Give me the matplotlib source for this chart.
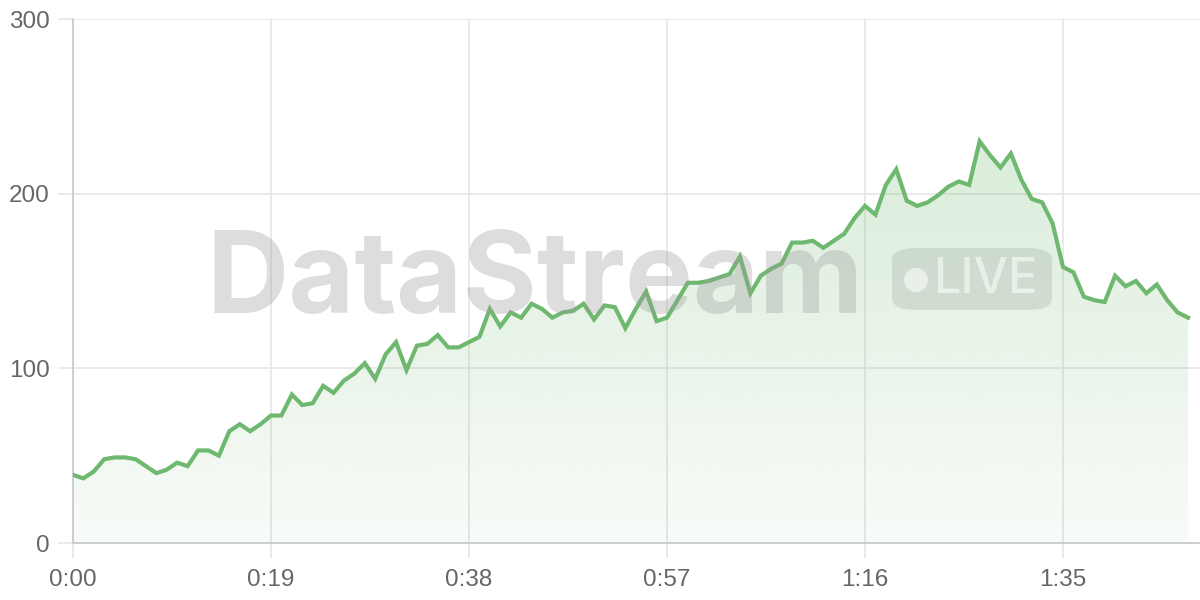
import matplotlib
matplotlib.use("Agg")
import matplotlib.pyplot as plt
import numpy as np
from matplotlib.patches import FancyBboxPatch, Ellipse
from matplotlib.path import Path
from matplotlib.patches import PathPatch

# ---- data ----
values = [39, 37, 41, 48, 49, 49, 48, 44, 40, 42,
          46, 44, 53, 53, 50, 64, 68, 64, 68, 73,
          73, 85, 79, 80, 90, 86, 93, 97, 103, 94,
          108, 115, 99, 113, 114, 119, 112, 112, 115, 118,
          134, 124, 132, 129, 137, 134, 129, 132, 133, 137,
          128, 136, 135, 123, 134, 144, 127, 129, 139, 149,
          149, 150, 152, 154, 164, 143, 153, 157, 160, 172,
          172, 173, 169, 173, 177, 186, 193, 188, 205, 214,
          196, 193, 195, 199, 204, 207, 205, 230, 222, 215,
          223, 208, 197, 195, 183, 158, 155, 141, 139, 138,
          153, 147, 150, 143, 148, 139, 132, 129]
labels = [f"{i // 60}:{i % 60:02d}" for i in range(len(values))]
tick_idx = [0, 19, 38, 57, 76, 95]
y_ticks = [0, 100, 200, 300]

# ---- style ----
LINE = "#6fb86f"
GRID = "#e6e6e6"
TXT = "#666666"
FONT = ["Liberation Sans", "DejaVu Sans"]
WFONT = ["Inter", "Liberation Sans", "DejaVu Sans"]
plt.rcParams["font.family"] = FONT

W, H = 1200, 600
fig = plt.figure(figsize=(12, 6), dpi=100)
ax = fig.add_axes([73 / W, 1 - 543 / H, 1 - 73 / W, (543 - 19) / H])

x = np.arange(len(values))
y = np.array(values, dtype=float)

ax.set_xlim(0, (W - 73) / ((1063 - 73) / 95))
ax.set_ylim(0, 300)

# gradient fill
verts = [(x[0], 0)] + list(zip(x, y)) + [(x[-1], 0)]
poly = PathPatch(Path(verts), facecolor="none", edgecolor="none")
ax.add_patch(poly)
ymax = y.max()
grad = np.zeros((256, 2, 4))
rgb = matplotlib.colors.to_rgb(LINE)
grad[..., 0], grad[..., 1], grad[..., 2] = rgb
alphas = np.linspace(0.05, 0.26, 256)[:, None]
grad[..., 3] = alphas
im = ax.imshow(grad, extent=[x[0], x[-1], 0, ymax], origin="lower",
               aspect="auto", zorder=1, interpolation="bicubic")
im.set_clip_path(poly)

ax.plot(x, y, color=LINE, lw=3, zorder=4, solid_joinstyle="miter")

# axes styling
ax.set_xticks(tick_idx)
ax.set_xticklabels([labels[i] for i in tick_idx])
ax.set_yticks(y_ticks)
ax.grid(True, color=GRID, lw=1.2, zorder=0)
ax.set_axisbelow(True)
for s in ["top", "right"]:
    ax.spines[s].set_visible(False)
ax.spines["left"].set_color("#cccccc")
ax.spines["bottom"].set_color("#cccccc")
ax.spines["left"].set_linewidth(1.3)
ax.spines["bottom"].set_linewidth(1.3)
ax.tick_params(axis="both", colors=GRID, labelcolor=TXT, labelsize=17.5,
               length=11, width=1.2)
ax.tick_params(axis="y", pad=6)
ax.tick_params(axis="x", pad=8)

# watermark
fig.text(535 / W, 1 - 313 / H, "DataStream", fontsize=82, fontweight="bold",
         color="#9a9a9a", alpha=0.33, ha="center", va="baseline", zorder=3,
         family=WFONT)
badge = FancyBboxPatch((892 / W, 1 - 310 / H), 160 / W, 62 / H,
                       boxstyle="round,pad=0,rounding_size=0.02",
                       transform=fig.transFigure, facecolor="#9aa59a",
                       alpha=0.28, edgecolor="none", zorder=3)
fig.add_artist(badge)
fig.add_artist(Ellipse((916 / W, 1 - 280 / H), 24 / W, 24 / H,
                       transform=fig.transFigure, facecolor="white",
                       alpha=0.55, edgecolor="none", zorder=3))
fig.text(985 / W, 1 - 280 / H, "LIVE", fontsize=35, fontweight="medium",
         color="white", alpha=0.55, ha="center", va="center", zorder=3,
         family=WFONT)

fig.savefig("out.png", dpi=100)
